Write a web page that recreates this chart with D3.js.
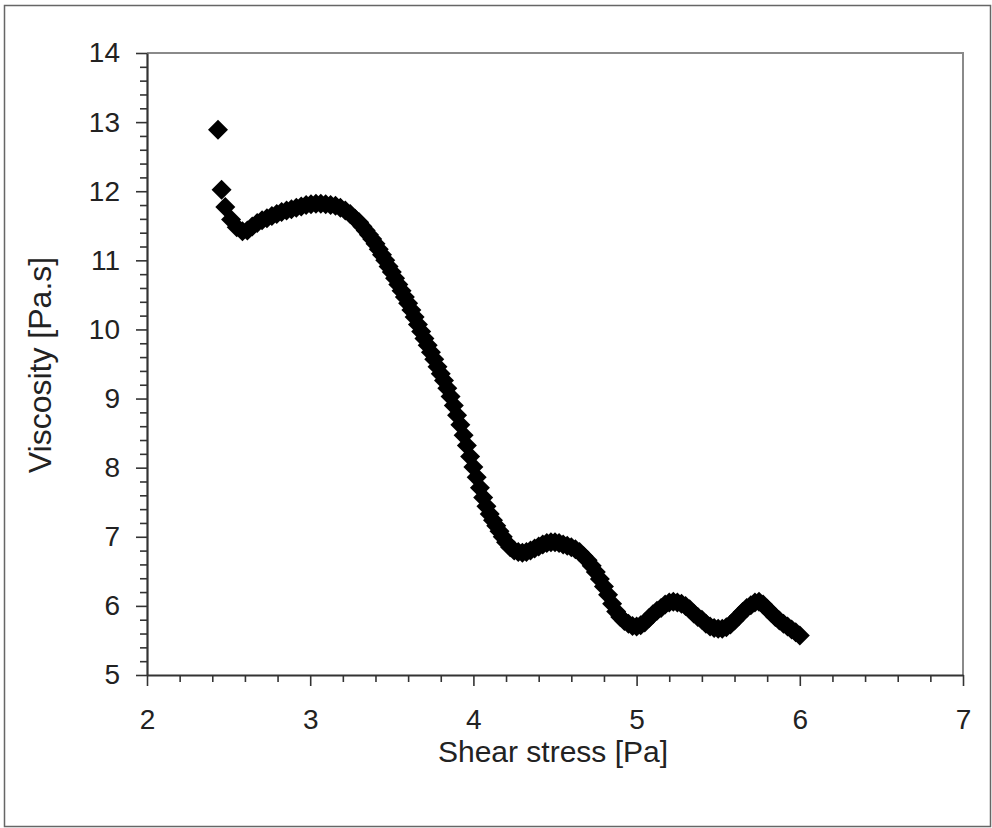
<!DOCTYPE html>
<html>
<head>
<meta charset="utf-8">
<script src="https://cdn.jsdelivr.net/npm/d3@7"></script>
<style>
  body { margin: 0; background: #fff; }
  svg text { font-family: "Liberation Sans", Arial, sans-serif; fill: #222; }
</style>
</head>
<body>
<script>
// shear stress [Pa]
var stress = [
	2.435, 2.457, 2.480, 2.515, 2.550, 2.585, 2.615, 2.645, 2.675, 2.705,
	2.735, 2.765, 2.795, 2.825, 2.855, 2.885, 2.915, 2.945, 2.975, 3.005,
	3.035, 3.065, 3.095, 3.125, 3.155, 3.185, 3.215, 3.245, 3.275, 3.300,
	3.320, 3.340, 3.360, 3.380, 3.400, 3.420, 3.440, 3.460, 3.480, 3.500,
	3.520, 3.540, 3.560, 3.580, 3.600, 3.620, 3.640, 3.660, 3.680, 3.700,
	3.720, 3.740, 3.760, 3.780, 3.800, 3.820, 3.840, 3.860, 3.880, 3.900,
	3.920, 3.940, 3.960, 3.980, 4.000, 4.020, 4.040, 4.060, 4.080, 4.100,
	4.120, 4.140, 4.160, 4.180, 4.200, 4.225, 4.250, 4.275, 4.300, 4.325,
	4.350, 4.375, 4.400, 4.425, 4.450, 4.475, 4.500, 4.525, 4.550, 4.575,
	4.600, 4.625, 4.650, 4.675, 4.700, 4.725, 4.750, 4.775, 4.800, 4.825,
	4.850, 4.875, 4.900, 4.925, 4.950, 4.975, 5.000, 5.025, 5.050, 5.075,
	5.100, 5.125, 5.150, 5.175, 5.200, 5.225, 5.250, 5.275, 5.300, 5.325,
	5.350, 5.375, 5.400, 5.425, 5.450, 5.475, 5.500, 5.525, 5.550, 5.575,
	5.600, 5.625, 5.650, 5.675, 5.700, 5.725, 5.750, 5.775, 5.800, 5.825,
	5.850, 5.875, 5.900, 5.925, 5.950, 5.975, 6.000
];

// viscosity [Pa.s]
var viscosity = [
	12.89, 12.02, 11.77, 11.59, 11.48, 11.42, 11.43, 11.49, 11.54, 11.58,
	11.61, 11.64, 11.67, 11.70, 11.72, 11.74, 11.76, 11.78, 11.80, 11.81,
	11.82, 11.82, 11.81, 11.80, 11.79, 11.76, 11.72, 11.67, 11.60, 11.55,
	11.49, 11.43, 11.37, 11.31, 11.24, 11.16, 11.08, 11.00, 10.91, 10.83,
	10.74, 10.65, 10.56, 10.47, 10.38, 10.28, 10.18, 10.07, 9.97, 9.87,
	9.77, 9.67, 9.57, 9.46, 9.36, 9.26, 9.15, 9.03, 8.90, 8.76,
	8.62, 8.47, 8.32, 8.16, 8.01, 7.86, 7.71, 7.57, 7.44, 7.33,
	7.24, 7.16, 7.08, 7.00, 6.92, 6.85, 6.80, 6.78, 6.77, 6.78,
	6.80, 6.83, 6.86, 6.89, 6.91, 6.92, 6.92, 6.91, 6.89, 6.87,
	6.85, 6.82, 6.78, 6.72, 6.66, 6.58, 6.49, 6.39, 6.28, 6.16,
	6.03, 5.92, 5.84, 5.78, 5.74, 5.71, 5.70, 5.72, 5.76, 5.82,
	5.88, 5.93, 5.97, 6.02, 6.05, 6.06, 6.05, 6.03, 6.00, 5.95,
	5.89, 5.84, 5.80, 5.74, 5.70, 5.68, 5.67, 5.67, 5.69, 5.73,
	5.79, 5.85, 5.91, 5.97, 6.01, 6.05, 6.06, 6.02, 5.96, 5.90,
	5.84, 5.79, 5.74, 5.70, 5.66, 5.62, 5.57
];

// axis ticks
var xTicks = [2, 3, 4, 5, 6, 7];
var yTicks = [5, 6, 7, 8, 9, 10, 11, 12, 13, 14];

var width = 992,
	height = 828;

// plot area edges
var plotLeft = 147, plotRight = 963, plotTop = 53, plotBottom = 675;

var svg = d3.select('body')
	.append('svg')
	.attr('width', width)
	.attr('height', height);

// outer frame
svg.append('rect')
	.attr('x', 4.5)
	.attr('y', 5.5)
	.attr('width', 986)
	.attr('height', 821)
	.attr('fill', 'none')
	.attr('stroke', '#666')
	.attr('stroke-width', 1.5);

var x = d3.scaleLinear().domain([2, 7]).range([plotLeft, plotRight]);
var y = d3.scaleLinear().domain([5, 14]).range([plotBottom, plotTop]);

// top and right plot border
svg.append('path')
	.attr('d', 'M' + plotLeft + ',' + plotTop + 'H' + plotRight + 'V' + plotBottom)
	.attr('fill', 'none')
	.attr('stroke', '#8a8a8a')
	.attr('stroke-width', 2);

// minor ticks every 0.2
var xMinor = d3.range(2, 7.001, 0.2).filter(function(d) { return Math.abs(d - Math.round(d)) > 1e-6; });
var yMinor = d3.range(5, 14.001, 0.2).filter(function(d) { return Math.abs(d - Math.round(d)) > 1e-6; });

var xAxis = svg.append('g')
	.attr('transform', 'translate(0,' + plotBottom + ')');

xAxis.append('g')
	.call(d3.axisBottom(x).tickValues(xMinor).tickSize(7).tickFormat(''))
	.call(function(g) { g.select('.domain').remove(); });

var xMajor = xAxis.append('g')
	.call(d3.axisBottom(x).tickValues(xTicks).tickSize(11).tickSizeOuter(0).tickFormat(d3.format('d')));

// put x labels on their baseline
xMajor.selectAll('.tick text')
	.attr('y', 54)
	.attr('dy', null);

var yAxis = svg.append('g')
	.attr('transform', 'translate(' + plotLeft + ',0)');

yAxis.append('g')
	.call(d3.axisLeft(y).tickValues(yMinor).tickSize(7).tickFormat(''))
	.call(function(g) { g.select('.domain').remove(); });

yAxis.append('g')
	.call(d3.axisLeft(y).tickValues(yTicks).tickSize(11).tickSizeOuter(0).tickPadding(16).tickFormat(d3.format('d')));

svg.selectAll('.tick line').attr('stroke', '#333').attr('stroke-width', 1.6);
svg.selectAll('.domain').attr('stroke', '#333').attr('stroke-width', 2.2);
svg.selectAll('.tick text')
	.attr('font-size', 28)
	.attr('fill', '#222')
	.attr('font-family', '"Liberation Sans", Arial, sans-serif');

// points, drawn as diamonds
var diamond = d3.symbol().type(d3.symbolSquare).size(200);

svg.append('g')
	.selectAll('path')
	.data(stress)
	.enter().append('path')
	.attr('d', diamond)
	.attr('fill', '#000')
	.attr('transform', function(d, i) {
		return 'translate(' + x(d) + ',' + y(viscosity[i]) + ') rotate(45)';
	});

// axis titles
svg.append('text')
	.attr('x', 553)
	.attr('y', 762)
	.attr('text-anchor', 'middle')
	.attr('font-size', 30)
	.text('Shear stress [Pa]');

svg.append('text')
	.attr('transform', 'translate(51,' + 365 + ') rotate(-90)')
	.attr('text-anchor', 'middle')
	.attr('font-size', 32)
	.text('Viscosity [Pa.s]');
</script>
</body>
</html>
